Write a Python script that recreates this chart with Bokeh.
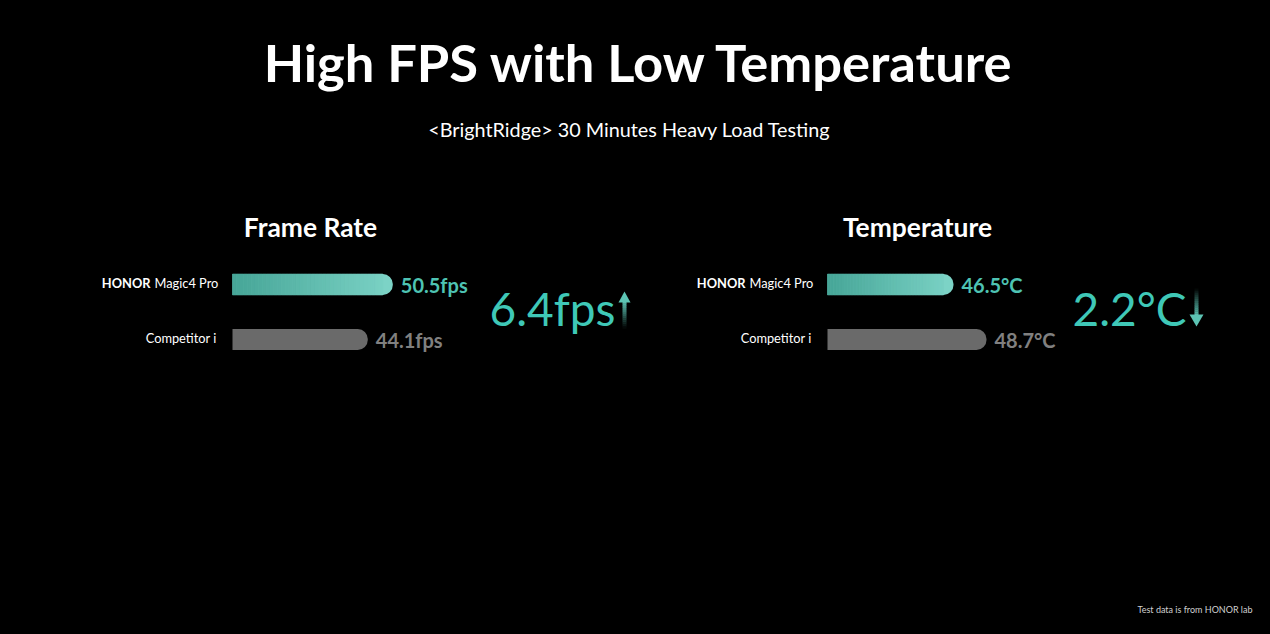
from bokeh.plotting import figure
from bokeh.models import Range1d
from bokeh.core.properties import value
from bokeh.embed import file_html
from bokeh.resources import INLINE

# ---------------- data ----------------
title = "High FPS with Low Temperature"
subtitle = "<BrightRidge> 30 Minutes Heavy Load Testing"
devices = ["HONOR Magic4 Pro", "Competitor i"]
fps_values = [50.5, 44.1]
temp_values = [46.5, 48.7]
fps_unit = "fps"
temp_unit = "°C"
panel_titles = ["Frame Rate", "Temperature"]
footer = "Test data is from HONOR lab"

# ---------------- style ----------------
FONT = "Lato"
TEAL0 = (0x46, 0xa5, 0x97)
TEAL1 = (0x7c, 0xd3, 0xc6)
GRAY_BAR = "#6a6a6a"
GRAY_TXT = "#808080"
TEAL_TXT = "#4ec3b3"
DELTA_COL = "#3fc8b7"


def hexc(c):
    return "#%02x%02x%02x" % tuple(int(round(v)) for v in c)


def mix(a, b, t):
    return tuple(a[i] + (b[i] - a[i]) * t for i in range(3))


def by(y, fs):
    # baseline correction for the rendered text position
    return y - 0.4 * fs


W, H = 1270, 634
p = figure(width=W, height=H, output_backend="svg", toolbar_location=None,
           x_range=Range1d(0, W), y_range=Range1d(H, 0),
           min_border=0, background_fill_color="black", border_fill_color="black")
p.axis.visible = False
p.grid.visible = False
p.outline_line_color = None

panels = [
    dict(name="fps", vals=fps_values, unit=fps_unit, base=9.5, k=3.91, x0=232,
         title_x=310, delta_x=489, arrow_x=624, up=True),
    dict(name="temp", vals=temp_values, unit=temp_unit, base=38.1, k=15.0, x0=827,
         title_x=917, delta_x=1072, arrow_x=1196, up=False),
]
row_y = [284, 339]
bar_h = 21
radius = 10
FS_VAL, FS_LAB, FS_PT, FS_DELTA = 20, 12.8, 26.4, 46

for pi, pn in enumerate(panels):
    start = pn["base"] - pn["x0"] / pn["k"]
    end = start + W / pn["k"]
    p.extra_x_ranges[pn["name"]] = Range1d(start, end)
    rn = pn["name"]
    base = pn["base"]
    vals = pn["vals"]
    # bars
    for i, v in enumerate(vals):
        if i == 0:
            p.hbar(y=[row_y[i]], left=[base], right=[v], height=bar_h,
                   fill_color=hexc(TEAL1), line_color=None,
                   border_radius=(0, radius, radius, 0), x_range_name=rn)
            N = 40
            stop = v - radius / pn["k"]
            d = (stop - base) / N
            lefts, rights, cols = [], [], []
            for j in range(N):
                l = base + j * d
                r = l + d
                t = (l + d / 2 - base) / (v - base)
                lefts.append(l)
                rights.append(r)
                cols.append(hexc(mix(TEAL0, TEAL1, t)))
            p.hbar(y=[row_y[i]] * N, left=lefts, right=rights, height=bar_h,
                   fill_color=cols, line_color=cols, line_width=0.6, x_range_name=rn)
        else:
            p.hbar(y=[row_y[i]], left=[base], right=[v], height=bar_h,
                   fill_color=GRAY_BAR, line_color=None,
                   border_radius=(0, radius, radius, 0), x_range_name=rn)
    # value labels
    p.text(x=[vals[0]], y=[by(row_y[0] + 8, FS_VAL)], text=[f"{vals[0]}{pn['unit']}"],
           x_offset=8, text_font=value(FONT), text_font_size=f"{FS_VAL}px",
           text_font_style="bold", text_color=TEAL_TXT, text_baseline="alphabetic",
           x_range_name=rn)
    p.text(x=[vals[1]], y=[by(row_y[1] + 8, FS_VAL)], text=[f"{vals[1]}{pn['unit']}"],
           x_offset=8, text_font=value(FONT), text_font_size=f"{FS_VAL}px",
           text_font_style="bold", text_color=GRAY_TXT, text_baseline="alphabetic",
           x_range_name=rn)
    # device labels
    brand, model = devices[0].split(" ", 1)
    p.text(x=[base], y=[by(row_y[0] + 4, FS_LAB)], text=[model], x_offset=-78,
           text_font=value(FONT), text_font_size=f"{FS_LAB}px", text_color="white",
           text_align="left", text_baseline="alphabetic", x_range_name=rn)
    p.text(x=[base], y=[by(row_y[0] + 4, FS_LAB)], text=[brand], x_offset=-82,
           text_font=value(FONT), text_font_size=f"{FS_LAB}px", text_font_style="bold",
           text_color="white", text_align="right", text_baseline="alphabetic",
           x_range_name=rn)
    p.text(x=[base], y=[by(row_y[1] + 4, FS_LAB)], text=[devices[1]], x_offset=-16,
           text_font=value(FONT), text_font_size=f"{FS_LAB}px", text_color="white",
           text_align="right", text_baseline="alphabetic", x_range_name=rn)
    # panel title
    p.text(x=[pn["title_x"]], y=[by(237, FS_PT)], text=[panel_titles[pi]],
           text_font=value(FONT), text_font_size=f"{FS_PT}px", text_font_style="bold",
           text_color="white", text_align="center", text_baseline="alphabetic")
    # delta
    delta = round(abs(vals[0] - vals[1]), 1)
    p.text(x=[pn["delta_x"]], y=[by(326, FS_DELTA)], text=[f"{delta}{pn['unit']}"],
           text_font=value(FONT), text_font_size=f"{FS_DELTA}px",
           text_color=DELTA_COL, text_align="left", text_baseline="alphabetic")
    # arrow
    ax = pn["arrow_x"]
    head_col = (0x5c, 0xc4, 0xb4)
    M = 13
    if pn["up"]:
        top, bot = 301, 328
        seg = (bot - top) / M
        tops = [top + j * seg for j in range(M)]
        cols = [hexc(mix(head_col, (0, 0, 0), (j + 0.5) / M)) for j in range(M)]
        p.quad(left=ax - 2, right=ax + 2, top=tops, bottom=[t + seg + 0.3 for t in tops],
               fill_color=cols, line_color=None)
        p.patch(x=[ax - 6, ax + 6, ax], y=[302, 302, 291], fill_color=hexc(head_col),
                line_color=None)
    else:
        top, bot = 288, 315
        seg = (bot - top) / M
        tops = [top + j * seg for j in range(M)]
        cols = [hexc(mix((0, 0, 0), head_col, (j + 0.5) / M)) for j in range(M)]
        p.quad(left=ax - 2, right=ax + 2, top=tops, bottom=[t + seg + 0.3 for t in tops],
               fill_color=cols, line_color=None)
        p.patch(x=[ax - 7, ax + 7, ax], y=[314, 314, 326], fill_color=hexc(head_col),
                line_color=None)

# titles
FS_T, FS_S, FS_F = 52.5, 19.8, 9
p.text(x=[639], y=[by(82, FS_T)], text=[title], text_font=value(FONT),
       text_font_size=f"{FS_T}px", text_font_style="bold", text_color="white",
       text_align="center", text_baseline="alphabetic")
p.text(x=[629], y=[by(136, FS_S)], text=[subtitle], text_font=value(FONT),
       text_font_size=f"{FS_S}px", text_color="white", text_align="center",
       text_baseline="alphabetic")
p.text(x=[1252], y=[by(613, FS_F)], text=[footer], text_font=value(FONT),
       text_font_size=f"{FS_F}px", text_color="#d0d0d0", text_align="right",
       text_baseline="alphabetic")

html = file_html(p, INLINE)
html = html.replace("</head>", "<style>html,body{background:#000000;}</style></head>", 1)
open("out.html", "w").write(html)
